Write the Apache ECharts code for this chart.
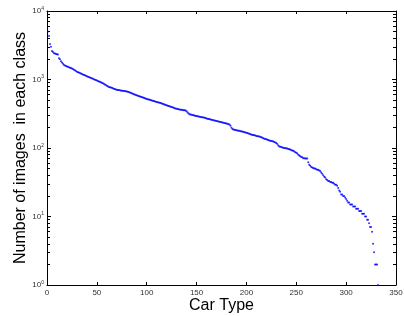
<!DOCTYPE html>
<html>
<head>
<meta charset="utf-8">
<script src="https://cdn.jsdelivr.net/npm/echarts@6/dist/echarts.min.js"></script>
<style>
    html, body { margin: 0; padding: 0; background: #fff; }
    #carChart { width: 404px; height: 316px; }
</style>
</head>
<body>
<div id="carChart"></div>
<script>
// number of images per car type, sorted (class 1 .. 332)
var imageCounts = [
    5000, 4300, 3300, 3000, 2600, 2520, 2420, 2390, 2360, 2340,
    2320, 2050, 1980, 1850, 1775, 1700, 1622, 1600, 1575, 1553,
    1530, 1510, 1490, 1470, 1453, 1420, 1390, 1360, 1330, 1302,
    1280, 1260, 1240, 1220, 1202, 1185, 1165, 1150, 1130, 1114,
    1100, 1085, 1070, 1055, 1042, 1025, 1010, 995, 980, 966,
    952, 938, 925, 910, 897, 883, 865, 848, 830, 812,
    795, 780, 773, 765, 755, 745, 735, 725, 716, 710,
    705, 700, 695, 690, 686, 683, 680, 677, 673, 670,
    662, 655, 647, 638, 628, 618, 611, 603, 595, 587,
    580, 573, 567, 560, 553, 546, 540, 533, 527, 521,
    516, 510, 505, 500, 495, 490, 485, 480, 475, 470,
    466, 462, 457, 452, 447, 441, 436, 430, 425, 420,
    415, 411, 406, 401, 396, 392, 387, 382, 378, 374,
    371, 368, 366, 363, 361, 359, 357, 356, 354, 345,
    330, 318, 312, 309, 306, 303, 300, 297, 294, 292,
    290, 288, 286, 284, 282, 280, 279, 276, 273, 270,
    268, 266, 264, 261, 259, 256, 254, 252, 249, 247,
    245, 243, 241, 239, 237, 235, 234, 232, 230, 228,
    226, 223, 221, 212, 198, 189, 187, 185, 183, 181,
    180, 179, 178, 176, 175, 173, 172, 170, 168, 167,
    165, 163, 161, 159, 157, 155, 155, 153, 152, 150,
    149, 148, 147, 145, 143, 141, 139, 137, 135, 134,
    132, 131, 129, 128, 126, 125, 124, 122, 120, 118,
    114, 109, 105, 104, 103, 102, 101, 100, 99, 99,
    98, 97, 96, 95, 93, 92, 91, 89, 87, 85,
    83, 80, 78, 76, 74, 73, 71, 71, 70, 70,
    70, 62, 57, 55, 53, 52, 51, 50, 50, 49,
    48, 48, 47, 46, 44, 42, 40, 38, 37, 35,
    34, 33, 33, 32, 32, 31, 31, 30, 29, 29,
    28, 26, 24, 23, 21, 21, 20, 20, 19, 18,
    17, 16, 16, 15, 15, 15, 14, 14, 14, 13,
    13, 13, 12, 12, 12, 11, 11, 11, 10, 10,
    9, 9, 8, 7, 7, 6, 4, 3, 2, 2,
    2, 1
];
var xTicks = [0, 50, 100, 150, 200, 250, 300, 350];
var yDecades = [1, 10, 100, 1000, 10000];
var yMinorTicks = [
    2, 3, 4, 5, 6, 7, 8, 9,
    20, 30, 40, 50, 60, 70, 80, 90,
    200, 300, 400, 500, 600, 700, 800, 900,
    2000, 3000, 4000, 5000, 6000, 7000, 8000, 9000
];

var points = [];
for (var i = 0; i < imageCounts.length; i++) {
    points.push([i + 1, imageCounts[i]]);
}
// minor ticks live on plain value axes (log10 units) in an overlaid second grid
var minorTickExp = yMinorTicks.map(function (v) { return Math.log(v) / Math.LN10; });
var expMin = Math.log(yDecades[0]) / Math.LN10;
var expMax = Math.log(yDecades[yDecades.length - 1]) / Math.LN10;

var chart = echarts.init(document.getElementById('carChart'));
var font = 'Liberation Sans, Arial, Helvetica, sans-serif';

function gridDef() {
    return { left: 47, right: 8, top: 11, bottom: 31, containLabel: false, outerBoundsMode: 'none' };
}

function xAxisDef(pos, withLabels) {
    return {
        type: 'value',
        gridIndex: 0,
        position: pos,
        min: xTicks[0],
        max: xTicks[xTicks.length - 1],
        interval: 50,
        name: withLabels ? 'Car Type' : '',
        nameLocation: 'middle',
        nameGap: 13,
        nameMoveOverlap: false,
        nameTextStyle: { fontFamily: font, fontSize: 16, color: '#000' },
        axisLine: { show: true, onZero: false, lineStyle: { color: '#000', width: 1 } },
        axisTick: { show: true, inside: true, length: 3, lineStyle: { color: '#000' } },
        axisLabel: { show: withLabels, fontFamily: font, fontSize: 8, color: '#333', margin: 4 },
        splitLine: { show: false }
    };
}

function yAxisDef(pos, withLabels) {
    return {
        type: 'log',
        logBase: 10,
        gridIndex: 0,
        position: pos,
        min: yDecades[0],
        max: yDecades[yDecades.length - 1],
        name: withLabels ? 'Number of images  in each class' : '',
        nameLocation: 'middle',
        nameGap: 18,
        nameMoveOverlap: false,
        nameTextStyle: { fontFamily: font, fontSize: 16, color: '#000' },
        axisLine: { show: true, onZero: false, lineStyle: { color: '#000', width: 1 } },
        axisTick: { show: true, inside: true, length: 4, lineStyle: { color: '#000' } },
        axisLabel: {
            show: withLabels,
            margin: 3,
            formatter: function (v) {
                return '10{s|' + Math.round(Math.log(v) / Math.LN10) + '}';
            },
            fontFamily: font, fontSize: 8, color: '#333',
            rich: { s: { fontFamily: font, fontSize: 5, color: '#333', padding: [0, 0, 5, 0] } }
        },
        splitLine: { show: false }
    };
}

function minorAxisDef(pos) {
    return {
        type: 'value',
        gridIndex: 1,
        position: pos,
        min: expMin,
        max: expMax,
        axisLine: { show: false },
        axisTick: { show: true, inside: true, length: 3, customValues: minorTickExp, lineStyle: { color: '#000' } },
        axisLabel: { show: false },
        splitLine: { show: false }
    };
}

var options = {
    animation: false,
    backgroundColor: '#fff',
    grid: [gridDef(), gridDef()],
    xAxis: [
        xAxisDef('bottom', true),
        xAxisDef('top', false),
        { type: 'value', gridIndex: 1, show: false, min: 0, max: 1 }
    ],
    yAxis: [yAxisDef('left', true), yAxisDef('right', false), minorAxisDef('left'), minorAxisDef('right')],
    series: [{
        type: 'scatter',
        xAxisIndex: 0,
        yAxisIndex: 0,
        data: points,
        symbol: 'circle',
        symbolSize: 2,
        itemStyle: { color: '#0000ff' }
    }]
};

chart.setOption(options);
</script>
</body>
</html>
